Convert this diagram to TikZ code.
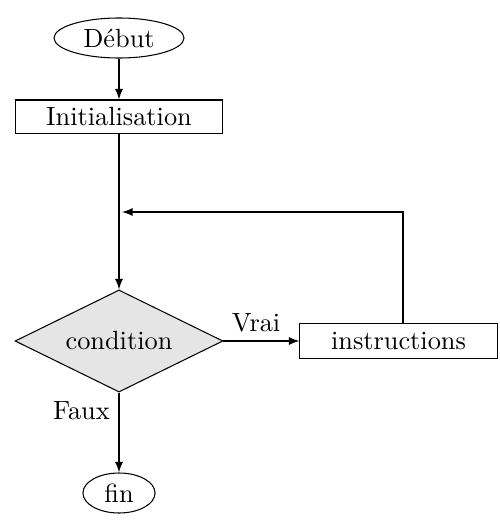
\documentclass[tikz,border=0pt]{standalone}
\usetikzlibrary{shapes.geometric,arrows}
\begin{document}
\begin{tikzpicture}[x=0.38pt,y=-0.38pt,
  every node/.style={font=\normalsize},
  term/.style={draw,ellipse,inner sep=0pt},
  procbox/.style={draw,rectangle,inner sep=0pt},
  decide/.style={draw,diamond,fill=black!10,inner sep=0pt,shape aspect=2.04,minimum width=79pt,minimum height=38.8pt},
  flow/.style={-latex}]
\useasboundingbox (0,0) rectangle (500,522);
\node[term,minimum width=49.4pt,minimum height=15.2pt] (deb) at (119,38) {Début};
\node[procbox,minimum width=78.7pt,minimum height=12.9pt] (init) at (119,117) {Initialisation};
\node[decide] (cond) at (119,341) {condition};
\node[procbox,minimum width=74.9pt,minimum height=13.3pt] (ins) at (398.5,341) {instructions};
\node[term,minimum width=27.4pt,minimum height=15.2pt] (fin) at (119,493) {fin};
\coordinate (up) at (403,212);
\coordinate (back) at (122,212);
\draw[flow] (deb) -- (init);
\draw[flow] (init) -- (cond);
\draw[flow] (cond) -- node[above,pos=0.43] (vrai) {Vrai} (ins);
\draw[flow] (cond) -- node[left,pos=0.23] (faux) {Faux} (fin);
\draw[flow] (ins.north -| up) -- (up) -- (back);
\end{tikzpicture}
\end{document}
